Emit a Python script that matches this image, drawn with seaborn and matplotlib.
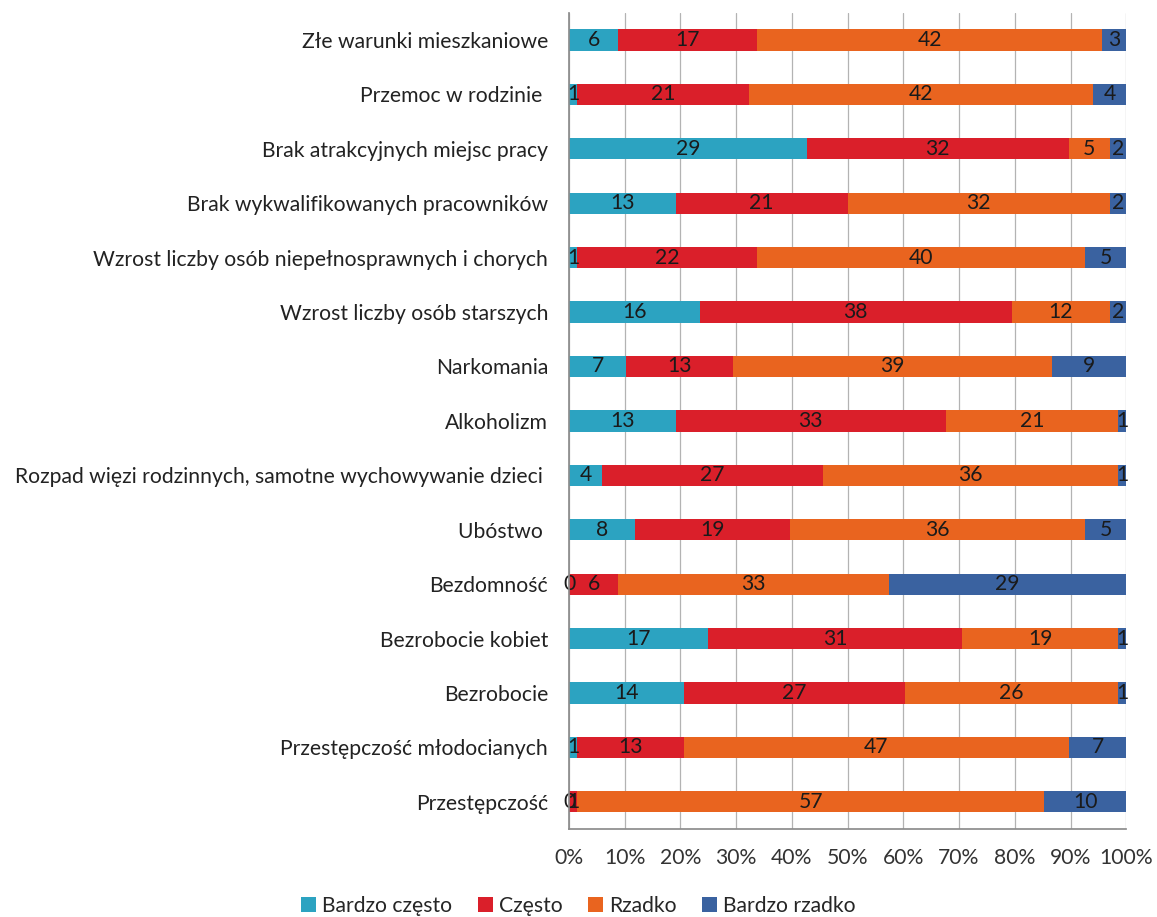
import matplotlib
matplotlib.use("Agg")
import matplotlib.pyplot as plt
import seaborn as sns
import numpy as np
import pandas as pd
from matplotlib.patches import Patch

categories = [
    "Złe warunki mieszkaniowe",
    "Przemoc w rodzinie ",
    "Brak atrakcyjnych miejsc pracy",
    "Brak wykwalifikowanych pracowników",
    "Wzrost liczby osób niepełnosprawnych i chorych",
    "Wzrost liczby osób starszych",
    "Narkomania",
    "Alkoholizm",
    "Rozpad więzi rodzinnych, samotne wychowywanie dzieci ",
    "Ubóstwo ",
    "Bezdomność",
    "Bezrobocie kobiet",
    "Bezrobocie",
    "Przestępczość młodocianych",
    "Przestępczość",
]
bardzo_czesto = [6, 1, 29, 13, 1, 16, 7, 13, 4, 8, 0, 17, 14, 1, 0]
czesto = [17, 21, 32, 21, 22, 38, 13, 33, 27, 19, 6, 31, 27, 13, 1]
rzadko = [42, 42, 5, 32, 40, 12, 39, 21, 36, 36, 33, 19, 26, 47, 57]
bardzo_rzadko = [3, 4, 2, 2, 5, 2, 9, 1, 1, 5, 29, 1, 1, 7, 10]

series_names = ["Bardzo często", "Często", "Rzadko", "Bardzo rzadko"]
colors = ["#2CA3C1", "#DA1F2A", "#E9641F", "#3A62A0"]

sns.set_theme(style="white")
plt.rcParams["font.family"] = ["Lato", "DejaVu Sans"]

FS = 15.2

vals = np.array([bardzo_czesto, czesto, rzadko, bardzo_rzadko], dtype=float)
totals = vals.sum(axis=0)
pct = vals / totals * 100
cum = np.cumsum(pct, axis=0)

fig = plt.figure(figsize=(11.57, 9.17), dpi=100)
ax = fig.add_axes([0.4918, 0.096, 0.4816, 0.89])

# draw cumulative bars from the last series to the first
for i in range(3, -1, -1):
    df = pd.DataFrame({"cat": categories, "val": cum[i]})
    sns.barplot(data=df, y="cat", x="val", orient="h", color=colors[i],
                saturation=1, width=0.39, ax=ax, zorder=3, linewidth=0)

# value labels
for i in range(4):
    for j, cat in enumerate(categories):
        start = cum[i][j] - pct[i][j]
        xc = start + pct[i][j] / 2
        ax.text(xc, j, f"{int(vals[i][j])}", ha="center", va="center",
                fontsize=FS, color="#1a1a1a", zorder=5)

ax.set_xlim(0, 100)
ax.set_ylim(len(categories) - 0.5, -0.5)
ax.set_xticks(np.arange(0, 101, 10))
ax.set_xticklabels([f"{v}%" for v in range(0, 101, 10)], fontsize=FS, color="#333333")
ax.set_yticks(range(len(categories)))
ax.set_yticklabels(categories, fontsize=FS, color="#222222")
ax.set_xlabel("")
ax.set_ylabel("")

ax.grid(axis="x", color="#b3b3b3", linewidth=0.9, zorder=0)
ax.grid(axis="y", visible=False)
for s in ["top", "right"]:
    ax.spines[s].set_visible(False)
ax.spines["left"].set_color("#8c8c8c")
ax.spines["bottom"].set_color("#8c8c8c")
ax.spines["left"].set_zorder(6)

# minor ticks on y between categories
ax.set_yticks(np.arange(-0.5, len(categories), 1), minor=True)
ax.tick_params(axis="y", which="major", length=0, pad=15)
ax.tick_params(axis="y", which="minor", length=6, color="#8c8c8c", direction="out")
ax.tick_params(axis="x", which="major", length=6, color="#8c8c8c", direction="out", pad=8)

handles = [Patch(facecolor=c, edgecolor="none") for c in colors]
fig.legend(handles, series_names, loc="center", bbox_to_anchor=(0.5, 0.012),
           ncol=4, frameon=False, fontsize=FS, handlelength=0.7, handleheight=0.7,
           handletextpad=0.3, columnspacing=1.2)

fig.savefig("out.png", dpi=100)
